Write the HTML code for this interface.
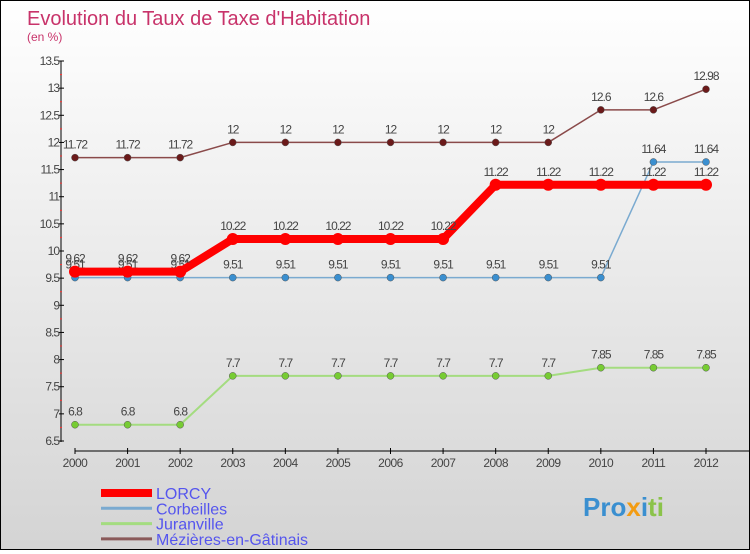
<!DOCTYPE html>
<html><head><meta charset="utf-8"><style>
body{margin:0}
#wrap{width:748px;height:548px;border:1px solid #000;background:linear-gradient(#ffffff,#d4d4d4);position:relative;font-family:"Liberation Sans",sans-serif}
</style></head><body>
<div id="wrap">
<svg id="chart" width="748" height="548">
<text x="26" y="24" font-size="20" fill="#c8336a">Evolution du Taux de Taxe d'Habitation</text>
<text x="26" y="40" font-size="12" fill="#c8336a">(en %)</text>
<text x="80" y="62" font-size="30" font-weight="bold" fill="#3a8fd0"></text>
<g id="plot"></g>
<text x="582" y="515" font-size="26" font-weight="bold" fill="#3a8fd0">Pro<tspan fill="#f39c12">x</tspan><tspan fill="#3a8fd0">i</tspan><tspan fill="#8bc34a">ti</tspan></text>
</svg>
</div>
<script>
const years=[2000,2001,2002,2003,2004,2005,2006,2007,2008,2009,2010,2011,2012];
const yTicks=[6.5,7,7.5,8,8.5,9,9.5,10,10.5,11,11.5,12,12.5,13,13.5];
const lorcy=[9.62,9.62,9.62,10.22,10.22,10.22,10.22,10.22,11.22,11.22,11.22,11.22,11.22];
const corbeilles=[9.51,9.51,9.51,9.51,9.51,9.51,9.51,9.51,9.51,9.51,9.51,11.64,11.64];
const juranville=[6.8,6.8,6.8,7.7,7.7,7.7,7.7,7.7,7.7,7.7,7.85,7.85,7.85];
const mezieres=[11.72,11.72,11.72,12,12,12,12,12,12,12,12.6,12.6,12.98];
const seriesNames=["LORCY","Corbeilles","Juranville","Mézières-en-Gâtinais"];
const NS="http://www.w3.org/2000/svg";
const g=document.getElementById('plot');
const x=i=>74+i*(705-74)/12;
const y=v=>440-(v-6.5)*(440-60)/7;
function el(t,a){const e=document.createElementNS(NS,t);for(const k in a)e.setAttribute(k,a[k]);g.appendChild(e);return e;}
let e;
e=el('line',{x1:60,y1:60,x2:60,y2:441,stroke:'#000','stroke-width':1});


e=el('line',{x1:74,y1:450,x2:748,y2:450,stroke:'#000','stroke-width':1});


yTicks.forEach((t,i)=>{
 e=el('line',{x1:58,x2:63,y1:y(t),y2:y(t),stroke:'#000'});
 
 
 if(i<yTicks.length-1){e=el('line',{x1:59,x2:61,y1:y(t+0.25),y2:y(t+0.25),stroke:'#f33'});
 
 }
 e=el('text',{x:58,y:y(t)+4,'text-anchor':'end','font-size':12,fill:'#444','letter-spacing':'-1'});
 e.textContent=t;
 
 
});
years.forEach((yr,i)=>{
 e=el('line',{x1:x(i),x2:x(i),y1:447,y2:453,stroke:'#000'});
 
 
 e=el('text',{x:x(i),y:466,'text-anchor':'middle','font-size':12,fill:'#444','letter-spacing':'-0.5'});
 e.textContent=yr;
 
 
});
function series(d,color,w,dot,name,fillDot){
 e=el('polyline',{points:d.map((v,i)=>x(i)+','+y(v)).join(' '),fill:'none',stroke:color,'stroke-width':w,'stroke-linejoin':'round'});
 
 
 d.forEach((v,i)=>{
  e=el('circle',{cx:x(i),cy:y(v),r:dot,fill:fillDot,stroke:fillDot==='#f00'?'none':'#555','stroke-width':0.5});
  
  
  e=el('text',{x:x(i),y:y(v)-9,'text-anchor':'middle','font-size':12,fill:'#444','letter-spacing':'-1'});
  e.textContent=v;
  
  
 });
}
series(mezieres,'#8a4a4a',1.5,3.5,'mezieres','#6b1a1a');
series(juranville,'#a4dc80',2,3.5,'juranville','#77cc33');
series(corbeilles,'#7aaad0',1.5,3.5,'corbeilles','#3a8fd0');
series(lorcy,'#f00',8,6,'lorcy','#f00');
const legColors=['#f00','#7aaad0','#a4dc80','#8a5a5a'];
const legW=[8,3,3,3];
seriesNames.forEach((n,i)=>{
 const ly=492+i*15.3;
 e=el('line',{x1:100,x2:151,y1:ly,y2:ly,stroke:legColors[i],'stroke-width':legW[i]});
 
 
 e=el('text',{x:155,y:ly+6,'font-size':16,fill:'#5555ee'});
 e.textContent=n;
 
 
});
</script>
</body></html>
